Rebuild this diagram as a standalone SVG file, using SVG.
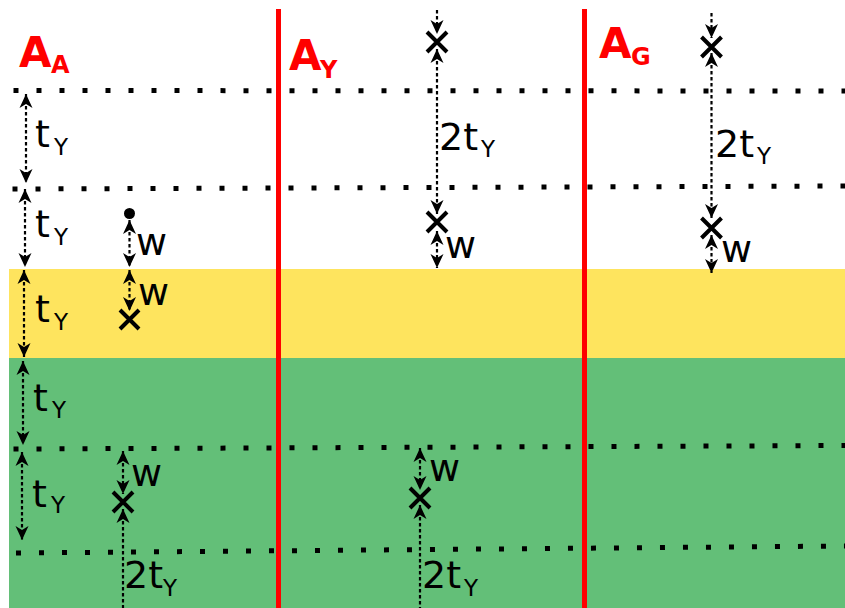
<svg xmlns="http://www.w3.org/2000/svg" width="845" height="608" viewBox="0 0 845 608">
<style>
.dot{fill:none;stroke:#000;stroke-width:5;stroke-dasharray:5 18}
.red{stroke:#ff0000;stroke-width:5}
.arr{fill:none;stroke:#000;stroke-width:2.2;stroke-dasharray:3.5 2.5}
.x{stroke:#000;stroke-width:4}
.lbl{font-family:"DejaVu Sans",sans-serif;font-size:38px;fill:#000}
.sub{font-family:"DejaVu Sans",sans-serif;font-size:23px;fill:#000}
.ttl{font-family:"DejaVu Sans",sans-serif;font-weight:bold;font-size:42px;fill:#ff0000}
.tsub{font-family:"DejaVu Sans",sans-serif;font-weight:bold;font-size:24px;fill:#ff0000}
</style>
<defs>
<marker id="ah" markerUnits="userSpaceOnUse" orient="auto-start-reverse" viewBox="-15 -8 16 16" refX="0" refY="0" markerWidth="16" markerHeight="16">
<path d="M0,0 L-14,-6.5 L-10,0 L-14,6.5 Z" fill="#000"/>
</marker>
</defs>
<rect width="845" height="608" fill="#fff"/>
<g id="bands">
<rect x="9" y="269" width="836" height="90" fill="#fee45e"/>
<rect x="9" y="358" width="836" height="250" fill="#63bf78"/>
</g>
<g id="gridlines">
<line class="dot" x1="13.5" y1="90.5" x2="845" y2="91"/>
<line class="dot" x1="12.5" y1="189" x2="845" y2="186"/>
<line class="dot" x1="13.5" y1="449" x2="845" y2="445.5"/>
<line class="dot" x1="16" y1="553" x2="845" y2="546"/>
</g>
<g id="dividers">
<line class="red" x1="278.5" y1="9" x2="278.5" y2="608"/>
<line class="red" x1="584.5" y1="9" x2="584.5" y2="608"/>
</g>
<g id="titles">
<text class="ttl" x="19" y="67">A</text><text class="tsub" x="51" y="73">A</text>
<text class="ttl" x="289" y="70">A</text><text class="tsub" x="320" y="78">Y</text>
<text class="ttl" x="599" y="58">A</text><text class="tsub" x="631" y="65">G</text>
</g>
<g id="connectors">
<line class="arr" x1="26" y1="94" x2="26" y2="183" marker-start="url(#ah)" marker-end="url(#ah)"/>
<line class="arr" x1="25" y1="189" x2="25" y2="267" marker-start="url(#ah)" marker-end="url(#ah)"/>
<line class="arr" x1="24" y1="270" x2="24" y2="357" marker-start="url(#ah)" marker-end="url(#ah)"/>
<line class="arr" x1="23" y1="361" x2="23" y2="445" marker-start="url(#ah)" marker-end="url(#ah)"/>
<line class="arr" x1="22" y1="452" x2="22" y2="540" marker-start="url(#ah)" marker-end="url(#ah)"/>
<line class="arr" x1="129.5" y1="220" x2="129.5" y2="267" marker-start="url(#ah)" marker-end="url(#ah)"/>
<line class="arr" x1="129.5" y1="270" x2="129.5" y2="311" marker-start="url(#ah)" marker-end="url(#ah)"/>
<line class="arr" x1="437" y1="10" x2="437" y2="34" marker-end="url(#ah)"/>
<line class="arr" x1="437" y1="49" x2="437" y2="214" marker-start="url(#ah)" marker-end="url(#ah)"/>
<line class="arr" x1="437" y1="231" x2="437" y2="268" marker-start="url(#ah)" marker-end="url(#ah)"/>
<line class="arr" x1="711.5" y1="13" x2="711.5" y2="38" marker-end="url(#ah)"/>
<line class="arr" x1="711.5" y1="53" x2="711.5" y2="218" marker-start="url(#ah)" marker-end="url(#ah)"/>
<line class="arr" x1="711.5" y1="235" x2="711.5" y2="273" marker-start="url(#ah)" marker-end="url(#ah)"/>
<line class="arr" x1="123" y1="451" x2="123" y2="494" marker-start="url(#ah)" marker-end="url(#ah)"/>
<line class="arr" x1="123" y1="509" x2="123" y2="608" marker-start="url(#ah)"/>
<line class="arr" x1="420" y1="448" x2="420" y2="490" marker-start="url(#ah)" marker-end="url(#ah)"/>
<line class="arr" x1="420" y1="505" x2="420" y2="608" marker-start="url(#ah)"/>
</g>
<g id="marks">
<circle cx="129.5" cy="213.5" r="5.5" fill="#000"/>
<path class="x" d="M120,310 L139,329 M139,310 L120,329"/>
<path class="x" d="M427,32 L447,52 M447,32 L427,52"/>
<path class="x" d="M427,212 L447,232 M447,212 L427,232"/>
<path class="x" d="M701.5,37 L721.5,57 M721.5,37 L701.5,57"/>
<path class="x" d="M701.5,218 L721.5,238 M721.5,218 L701.5,238"/>
<path class="x" d="M113,492 L133,512 M133,492 L113,512"/>
<path class="x" d="M410,488 L430,508 M430,488 L410,508"/>
</g>
<g id="labels">
<text class="lbl" x="35" y="147">t</text><text class="sub" x="54" y="155">Y</text>
<text class="lbl" x="35" y="237">t</text><text class="sub" x="54" y="245">Y</text>
<text class="lbl" x="35" y="322">t</text><text class="sub" x="54" y="330">Y</text>
<text class="lbl" x="33" y="411">t</text><text class="sub" x="52" y="418">Y</text>
<text class="lbl" x="32" y="507">t</text><text class="sub" x="51" y="513">Y</text>
<text class="lbl" x="136" y="255">w</text>
<text class="lbl" x="138" y="305">w</text>
<text class="lbl" x="445" y="258">w</text>
<text class="lbl" x="721" y="262">w</text>
<text class="lbl" x="131" y="486">w</text>
<text class="lbl" x="429" y="481">w</text>
<text class="lbl" x="439" y="150">2t</text><text class="sub" x="481" y="157">Y</text>
<text class="lbl" x="715" y="157">2t</text><text class="sub" x="757" y="164">Y</text>
<text class="lbl" x="124" y="588">2t</text><text class="sub" x="163" y="596">Y</text>
<text class="lbl" x="422" y="588">2t</text><text class="sub" x="464" y="596">Y</text>
</g>
</svg>
